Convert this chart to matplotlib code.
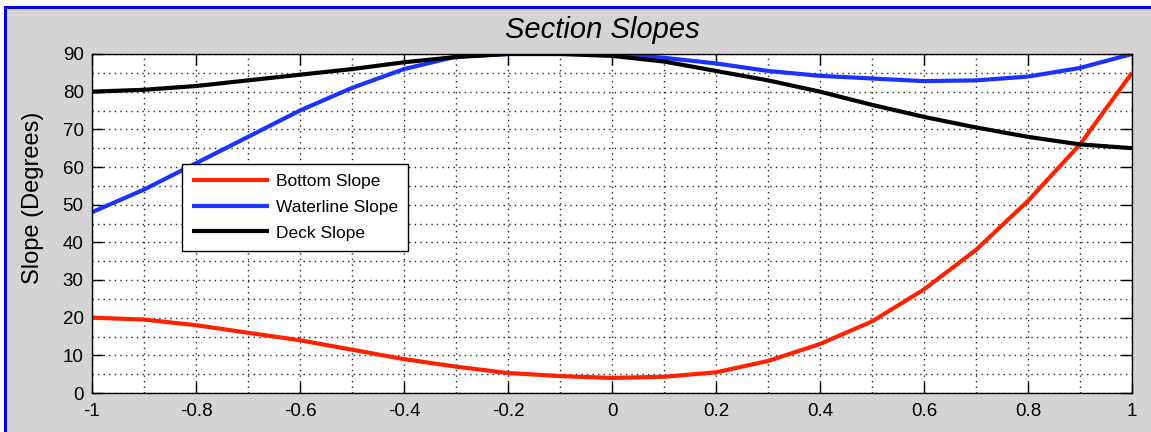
import matplotlib
matplotlib.use('Agg')
import matplotlib.pyplot as plt
from matplotlib.patches import Rectangle
from matplotlib.ticker import MultipleLocator
import numpy as np

# Values at x steps of 0.1
x_pos = [-1.0, -0.9, -0.8, -0.7, -0.6, -0.5, -0.4, -0.3, -0.2, -0.1, 0.0,
         0.1, 0.2, 0.3, 0.4, 0.5, 0.6, 0.7, 0.8, 0.9, 1.0]
bottom_slope = [20.0, 19.5, 18.0, 16.0, 14.0, 11.5, 9.0, 7.0, 5.3, 4.5, 4.0,
                4.3, 5.5, 8.5, 13.0, 19.0, 27.5, 38.0, 51.0, 66.0, 85.0]
waterline_slope = [48.0, 54.0, 61.0, 68.0, 75.0, 81.0, 86.0, 89.3, 90.0, 90.0, 90.0,
                   89.0, 87.5, 85.5, 84.2, 83.5, 82.8, 83.0, 84.0, 86.3, 90.0]
deck_slope = [80.0, 80.5, 81.5, 83.0, 84.5, 86.0, 87.8, 89.2, 90.0, 90.0, 89.5,
              88.0, 85.5, 83.0, 80.0, 76.5, 73.3, 70.5, 68.0, 66.0, 65.0]
series_names = ['Bottom Slope', 'Waterline Slope', 'Deck Slope']
series_colors = ['#ff2200', '#1a33ff', '#000000']
x_ticks = [-1, -0.8, -0.6, -0.4, -0.2, 0, 0.2, 0.4, 0.6, 0.8, 1]
x_ticklabels = ['-1', '-0.8', '-0.6', '-0.4', '-0.2', '0', '0.2', '0.4', '0.6', '0.8', '1']

plt.rcParams['font.family'] = ['Liberation Sans', 'DejaVu Sans']

W, H = 1151, 432
fig = plt.figure(figsize=(W / 100, H / 100), dpi=100, facecolor='white')

# gray panel with the blue frame on top and left (rest is cropped off)
fig.patches.append(Rectangle((5 / W, -0.1), 1.2, 1 - 7 / H + 0.1,
                             transform=fig.transFigure, facecolor='#d4d4d4',
                             edgecolor='#0000ee', linewidth=2.2, zorder=-10))

ax = fig.add_axes([92 / W, 39 / H, 1040 / W, 339 / H])
ax.set_facecolor('white')

for ys, name, col in zip([bottom_slope, waterline_slope, deck_slope],
                         series_names, series_colors):
    ax.plot(x_pos, ys, color=col, linewidth=3, label=name, solid_capstyle='butt')

ax.set_xlim(-1, 1)
ax.set_ylim(0, 90)
ax.set_xticks(x_ticks)
ax.set_xticklabels(x_ticklabels)
ax.xaxis.set_minor_locator(MultipleLocator(0.1))
ax.yaxis.set_major_locator(MultipleLocator(10))
ax.yaxis.set_minor_locator(MultipleLocator(5))

ax.tick_params(which='major', direction='in', length=8, width=1, top=True, right=True,
               labelsize=13.5, pad=6, colors='black')
ax.tick_params(axis='x', which='major', pad=7)
ax.tick_params(which='minor', length=0, top=True, right=True)
ax.grid(True, which='both', color='#222222', linestyle=(0, (1, 3)), linewidth=1)
ax.set_axisbelow(True)
for sp in ax.spines.values():
    sp.set_linewidth(1)

fig.text(602 / W, 1 - 30 / H, 'Section Slopes', fontsize=21, style='italic',
         ha='center', va='center')
fig.text(33 / W, 1 - 198 / H, 'Slope (Degrees)', rotation=90, fontsize=17,
         ha='center', va='center')

leg = ax.legend(loc='lower left', bbox_to_anchor=(0.0865, 0.419), fontsize=12.5,
                frameon=True, fancybox=False, edgecolor='black', framealpha=1,
                handlelength=4.4, handletextpad=0.4, borderpad=0.6,
                labelspacing=0.6, borderaxespad=0)
leg.get_frame().set_linewidth(1)

fig.savefig('out.png', dpi=100, facecolor=fig.get_facecolor())
